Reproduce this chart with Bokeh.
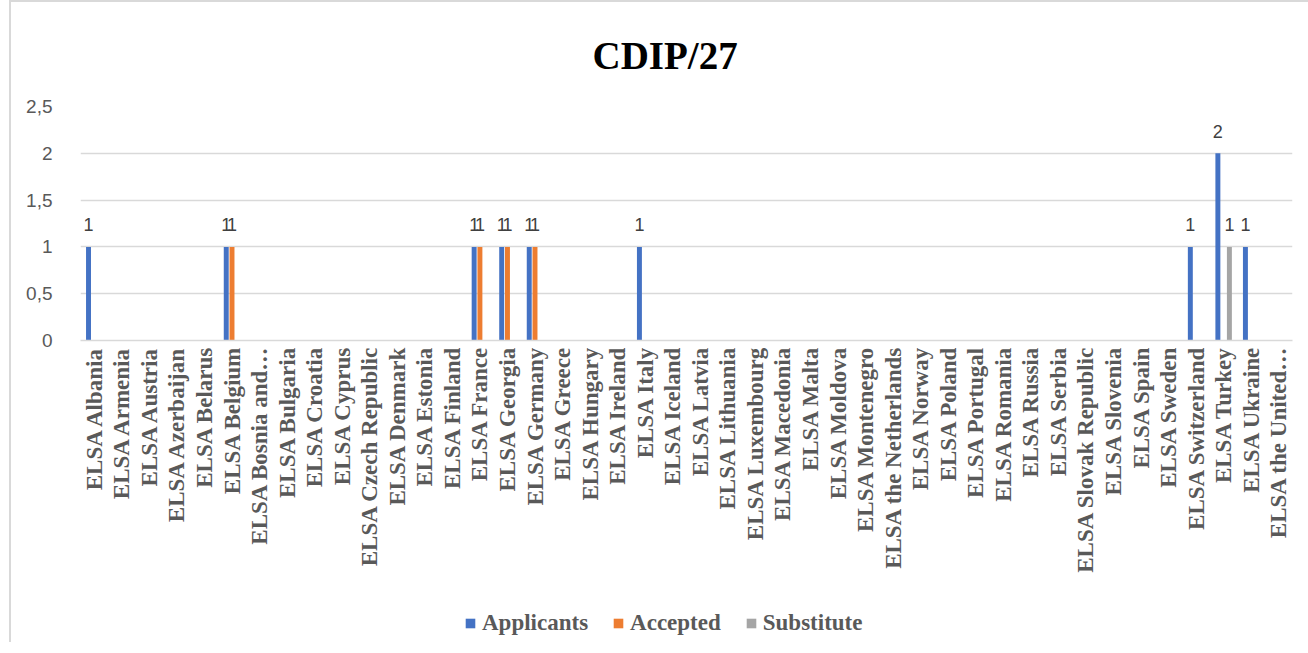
from bokeh.plotting import figure
from bokeh.layouts import column
from bokeh.models import ColumnDataSource, FactorRange, FixedTicker, Legend, LegendItem, Title
from bokeh.transform import dodge
from bokeh.core.properties import value
from bokeh.embed import file_html
from bokeh.resources import INLINE

categories = ["ELSA Albania", "ELSA Armenia", "ELSA Austria", "ELSA Azerbaijan", "ELSA Belarus",
              "ELSA Belgium", "ELSA Bosnia and…", "ELSA Bulgaria", "ELSA Croatia", "ELSA Cyprus",
              "ELSA Czech Republic", "ELSA Denmark", "ELSA Estonia", "ELSA Finland", "ELSA France",
              "ELSA Georgia", "ELSA Germany", "ELSA Greece", "ELSA Hungary", "ELSA Ireland",
              "ELSA Italy", "ELSA Iceland", "ELSA Latvia", "ELSA Lithuania", "ELSA Luxembourg",
              "ELSA Macedonia", "ELSA Malta", "ELSA Moldova", "ELSA Montenegro", "ELSA the Netherlands",
              "ELSA Norway", "ELSA Poland", "ELSA Portugal", "ELSA Romania", "ELSA Russia",
              "ELSA Serbia", "ELSA Slovak Republic", "ELSA Slovenia", "ELSA Spain", "ELSA Sweden",
              "ELSA Switzerland", "ELSA Turkey", "ELSA Ukraine", "ELSA the United…"]

applicants = [1, 0, 0, 0, 0, 1, 0, 0, 0, 0, 0, 0, 0, 0, 1, 1, 1, 0, 0, 0, 1, 0,
              0, 0, 0, 0, 0, 0, 0, 0, 0, 0, 0, 0, 0, 0, 0, 0, 0, 0, 1, 2, 1, 0]
accepted = [0, 0, 0, 0, 0, 1, 0, 0, 0, 0, 0, 0, 0, 0, 1, 1, 1, 0, 0, 0, 0, 0,
            0, 0, 0, 0, 0, 0, 0, 0, 0, 0, 0, 0, 0, 0, 0, 0, 0, 0, 0, 0, 0, 0]
substitute = [0, 0, 0, 0, 0, 0, 0, 0, 0, 0, 0, 0, 0, 0, 0, 0, 0, 0, 0, 0, 0, 0,
              0, 0, 0, 0, 0, 0, 0, 0, 0, 0, 0, 0, 0, 0, 0, 0, 0, 0, 0, 1, 0, 0]

series_names = ["Applicants", "Accepted", "Substitute"]
series_colors = ["#4472C4", "#ED7D31", "#A5A5A5"]
series_values = [applicants, accepted, substitute]

y_ticks = [0, 0.5, 1, 1.5, 2, 2.5]
y_tick_labels = ["0", "0,5", "1", "1,5", "2", "2,5"]

title_text = "CDIP/27"

p = figure(x_range=FactorRange(*categories, range_padding=0), y_range=(0, 2.5),
           frame_width=1210, frame_height=232, output_backend="svg", toolbar_location=None,
           min_border_left=69, min_border_right=18, min_border_top=0, min_border_bottom=260)

p.title = Title(text=title_text, align="left", text_font="Liberation Serif",
                text_font_size="39px", text_font_style="bold", text_color="#000000",
                offset=512, standoff=59)

p.outline_line_color = None
p.background_fill_color = "white"
p.border_fill_color = "white"
p.styles = {"margin-left": "9px", "margin-top": "0px",
            "border-left": "2px solid #d9d9d9", "border-top": "2px solid #d9d9d9"}

offsets = [-0.209, 0.0, 0.209]
bar_width = 0.18
for name, color, vals, off in zip(series_names, series_colors, series_values, offsets):
    src = ColumnDataSource(dict(cat=categories, val=vals))
    p.vbar(x=dodge("cat", off, range=p.x_range), top="val", width=bar_width,
           source=src, fill_color=color, line_color=None)
    lab_cats = [c for c, v in zip(categories, vals) if v != 0]
    lab_vals = [v for v in vals if v != 0]
    lsrc = ColumnDataSource(dict(cat=lab_cats, val=lab_vals, txt=[str(v) for v in lab_vals]))
    p.text(x=dodge("cat", off, range=p.x_range), y="val", text="txt", source=lsrc,
           text_align="center", text_baseline="alphabetic", y_offset=-22,
           text_font=value("Liberation Sans"), text_font_size="18px", text_color="#404040")

p.xgrid.grid_line_color = None
p.ygrid.grid_line_color = "#d9d9d9"
p.ygrid.grid_line_width = 1.5

p.yaxis.ticker = FixedTicker(ticks=y_ticks)
p.yaxis.major_label_overrides = {t: l for t, l in zip(y_ticks, y_tick_labels)}
p.yaxis.axis_line_color = None
p.yaxis.major_tick_line_color = None
p.yaxis.minor_tick_line_color = None
p.yaxis.major_label_text_font = "Liberation Sans"
p.yaxis.major_label_text_font_size = "19px"
p.yaxis.major_label_text_color = "#595959"
p.yaxis.major_label_standoff = 22

p.xaxis.axis_line_color = "#d9d9d9"
p.xaxis.axis_line_width = 1.5
p.xaxis.major_tick_line_color = None
p.xaxis.minor_tick_line_color = None
p.xaxis.major_label_orientation = 3.14159265 / 2
p.xaxis.major_label_text_font = "Liberation Serif"
p.xaxis.major_label_text_font_size = "23px"
p.xaxis.major_label_text_font_style = "bold"
p.xaxis.major_label_text_color = "#595959"
p.xaxis.major_label_standoff = 0

# legend strip below the chart (swatch-only glyphs carry the series colours)
p2 = figure(width=1297, height=44, x_range=(0, 1), y_range=(0, 1), output_backend="svg",
            toolbar_location=None, min_border=0)
p2.axis.visible = False
p2.grid.visible = False
p2.outline_line_color = None
p2.styles = {"margin-left": "9px", "border-left": "2px solid #d9d9d9"}
nan = float("nan")
items = []
for name, color in zip(series_names, series_colors):
    sw = p2.vbar(x=[nan], top=[nan], width=0.1, fill_color=color, line_color=None)
    items.append(LegendItem(label=name, renderers=[sw]))

legend = Legend(items=items, orientation="horizontal", location=(384, 6),
                label_text_font="Liberation Serif", label_text_font_size="23px",
                label_text_font_style="bold", label_text_color="#595959",
                glyph_width=12, glyph_height=12, label_standoff=6, spacing=24,
                border_line_color=None, background_fill_alpha=0, padding=0, margin=0)
p2.add_layout(legend, "center")

layout = column(p, p2, spacing=0)
open("out.html", "w").write(file_html(layout, INLINE))
